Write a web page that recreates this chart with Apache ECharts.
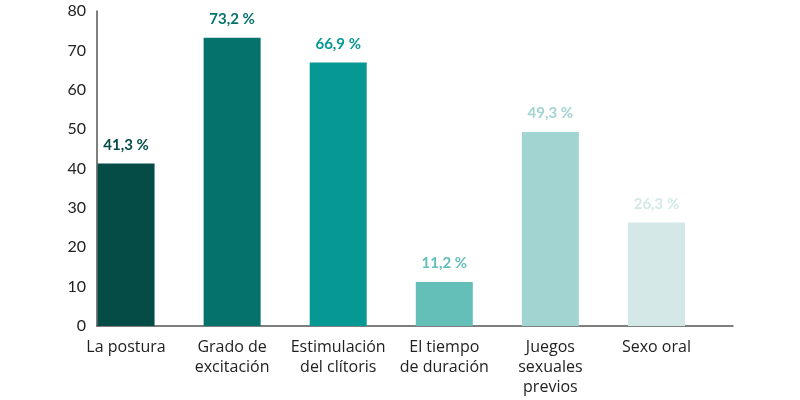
<!DOCTYPE html>
<html>
<head>
<meta charset="utf-8">
<script src="https://cdn.jsdelivr.net/npm/echarts@6/dist/echarts.min.js"></script>
<style>html,body{margin:0;padding:0;background:#fff}#c{width:800px;height:400px}</style>
</head>
<body>
<div id="c"></div>
<script>
var categories = ['La postura', 'Grado de\nexcitación', 'Estimulación\ndel clítoris', 'El tiempo\nde duración', 'Juegos\nsexuales\nprevios', 'Sexo oral'];
var values = [41.3, 73.2, 66.9, 11.2, 49.3, 26.3];
var barColors = ['#054C47', '#06726C', '#069892', '#63BFB8', '#A2D4D2', '#D3E8E7'];
var yTicks = [0, 10, 20, 30, 40, 50, 60, 70, 80];

var font = 'Lato, "Open Sans", sans-serif';
var chart = echarts.init(document.getElementById('c'));
chart.setOption({
  animation: false,
  grid: [
    {left: 73, right: 90.5, top: 11, bottom: 74},
    {left: 97, right: 67, top: 11, bottom: 74}
  ],
  xAxis: [
    {
      type: 'category', gridIndex: 0, data: categories,
      axisLine: {show: false}, axisTick: {show: false},
      axisLabel: {color: '#222', fontSize: 16, fontFamily: '"Open Sans", sans-serif', margin: 11, lineHeight: 20, interval: 0}
    },
    {
      type: 'value', gridIndex: 1, min: 0, max: 1,
      axisLine: {show: true, lineStyle: {color: '#555', width: 1.5}},
      axisTick: {show: false}, axisLabel: {show: false}, splitLine: {show: false}
    }
  ],
  yAxis: [
    {
      type: 'value', gridIndex: 0, min: yTicks[0], max: yTicks[yTicks.length - 1], interval: 10,
      offset: -24,
      axisLine: {show: true, lineStyle: {color: '#555', width: 1.5}},
      axisTick: {show: false}, splitLine: {show: false},
      axisLabel: {color: '#222', fontSize: 16, fontFamily: font, margin: 11}
    },
    {type: 'value', gridIndex: 1, show: false}
  ],
  series: [{
    type: 'bar', xAxisIndex: 0, yAxisIndex: 0,
    barWidth: 57,
    data: values.map(function (v, i) {
      return {
        value: v,
        itemStyle: {color: barColors[i]},
        label: {color: barColors[i]}
      };
    }),
    label: {
      show: true, position: 'top', distance: 11,
      fontSize: 15, fontWeight: 'bold', fontFamily: font,
      formatter: function (p) { return p.value.toFixed(1).replace('.', ',') + ' %'; }
    }
  }]
});
</script>
</body>
</html>
